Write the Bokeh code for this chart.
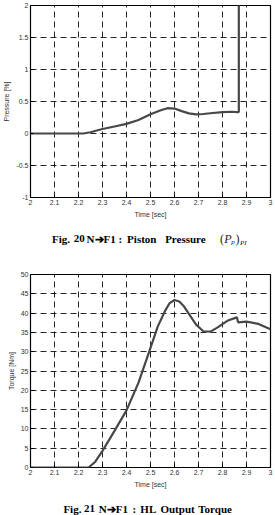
from bokeh.plotting import figure
from bokeh.layouts import column
from bokeh.models import FixedTicker, Range1d
from bokeh.core.properties import value
from bokeh.embed import file_html
from bokeh.resources import INLINE

# ---------------- data ----------------
x_ticks = [2.0, 2.1, 2.2, 2.3, 2.4, 2.5, 2.6, 2.7, 2.8, 2.9, 3.0]
x_tick_labels = ["2", "2.1", "2.2", "2.3", "2.4", "2.5", "2.6", "2.7", "2.8", "2.9", "3"]

p_ticks = [-1.0, -0.5, 0.0, 0.5, 1.0, 1.5, 2.0]
p_tick_labels = ["-1", "-0.5", "0", "0.5", "1", "1.5", "2"]

tq_ticks = [0, 5, 10, 15, 20, 25, 30, 35, 40, 45, 50]
tq_tick_labels = ["0", "5", "10", "15", "20", "25", "30", "35", "40", "45", "50"]

# Fig. 20: piston pressure [%]
press_t = [2.0, 2.22, 2.25, 2.28, 2.30, 2.35, 2.40, 2.45, 2.50, 2.54, 2.57, 2.60,
           2.63, 2.66, 2.69, 2.72, 2.76, 2.80, 2.84, 2.86, 2.868, 2.868]
press_v = [0.0, 0.0, 0.02, 0.05, 0.07, 0.11, 0.15, 0.21, 0.30, 0.36, 0.395, 0.39,
           0.35, 0.315, 0.30, 0.305, 0.32, 0.335, 0.34, 0.335, 0.335, 2.3]

# Fig. 21: HL output torque [Nm]
torq_t = [2.0, 2.242, 2.27, 2.30, 2.35, 2.40, 2.45, 2.50, 2.53, 2.56, 2.58, 2.60,
          2.62, 2.64, 2.66, 2.69, 2.72, 2.75, 2.78, 2.82, 2.86, 2.865, 2.90, 2.95, 3.0]
torq_v = [0.0, 0.0, 1.5, 4.3, 9.5, 14.8, 22.0, 31.0, 36.5, 40.5, 42.6, 43.4,
          43.0, 41.7, 39.8, 37.0, 35.3, 35.2, 36.3, 38.0, 38.9, 37.6, 37.8, 37.2, 35.8]

# captions
cap1_words = ["Fig.", "20", "N\u2794F1", ":", "Piston", "Pressure"]
cap2_words = ["Fig.", "21", "N\u2794F1", ":", "HL", "Output", "Torque"]

LINE_COLOR = "#474747"
TICK_FONT = "Liberation Sans"
CAP_FONT = "Liberation Serif"


def make_fig(height, y_range, y_ticks, y_labels, y_label, mb_top, mb_bottom, mb_left, mb_right):
    p = figure(width=275, height=height, output_backend="svg", toolbar_location=None,
               x_range=Range1d(2.0, 3.0), y_range=Range1d(*y_range),
               min_border_top=mb_top, min_border_bottom=mb_bottom,
               min_border_left=mb_left, min_border_right=mb_right)
    p.background_fill_color = "white"
    p.border_fill_color = "white"
    p.outline_line_color = "black"
    p.outline_line_width = 1.2
    p.xaxis.ticker = FixedTicker(ticks=x_ticks)
    p.xaxis.major_label_overrides = dict(zip(x_ticks, x_tick_labels))
    p.yaxis.ticker = FixedTicker(ticks=y_ticks)
    p.yaxis.major_label_overrides = dict(zip(y_ticks, y_labels))
    for ax in (p.xaxis, p.yaxis):
        ax.axis_line_color = None
        ax.major_tick_in = 3
        ax.major_tick_out = 0
        ax.minor_tick_line_color = None
        ax.major_tick_line_color = "black"
        ax.major_label_text_font = TICK_FONT
        ax.major_label_text_font_size = "7px"
        ax.major_label_text_color = "#333333"
        ax.axis_label_text_font = TICK_FONT
        ax.axis_label_text_font_size = "7px"
        ax.axis_label_text_font_style = "normal"
        ax.axis_label_text_color = "#333333"
        ax.major_label_standoff = 2
        ax.axis_label_standoff = 3
    p.xaxis.axis_label = "Time [sec]"
    p.yaxis.axis_label = y_label
    p.xgrid.ticker = FixedTicker(ticks=x_ticks)
    p.ygrid.ticker = FixedTicker(ticks=y_ticks)
    for g in (p.xgrid, p.ygrid):
        g.grid_line_color = "black"
        g.grid_line_dash = "6 4"
        g.grid_line_width = 1
        g.grid_line_alpha = 0.85
    return p


def make_caption(words, xs, y, extra=None):
    c = figure(width=275, height=25, output_backend="svg", toolbar_location=None,
               x_range=Range1d(0, 275), y_range=Range1d(0, 25),
               x_axis_location=None, y_axis_location=None,
               min_border_top=0, min_border_bottom=0, min_border_left=0, min_border_right=0)
    c.outline_line_color = None
    c.xgrid.visible = False
    c.ygrid.visible = False
    c.text(x=xs, y=[y] * len(xs), text=words, text_font=value(CAP_FONT),
           text_font_size="11px", text_font_style="bold", text_color="black",
           text_baseline="middle", text_align="center")
    if extra:
        for txt, x, dy, size, style in extra:
            c.text(x=[x], y=[y + dy], text=[txt], text_font=value(CAP_FONT),
                   text_font_size=size, text_font_style=style, text_color="#222222",
                   text_baseline="middle", text_align="left")
    return c


# ---------------- figure 1 ----------------
p1 = make_fig(225, (-1.0, 2.0), p_ticks, p_tick_labels, "Pressure [%]", 5, 28, 29, 2)
p1.line(press_t, press_v, line_color=LINE_COLOR, line_width=2.2)
c1 = make_caption(cap1_words, [35, 56, 81, 103, 127.5, 177.5], 12,
                  extra=[("(", 217, 0, "12px", "normal"), ("P", 222, 0, "12px", "italic"),
                         ("p", 230, -3, "7px", "italic"), (")", 235, 0, "12px", "normal"),
                         ("PI", 240, -4, "7px", "italic")])

# ---------------- figure 2 ----------------
p2 = make_fig(240, (0, 50), tq_ticks, tq_tick_labels, "Torque [Nm]", 24, 23, 26, 5)
p2.line(torq_t, torq_v, line_color=LINE_COLOR, line_width=2.2)
c2 = make_caption(cap2_words, [48, 67.5, 95, 119, 135, 168.5, 211.5], 7)

layout = column(p1, c1, p2, c2, spacing=0)
open("out.html", "w").write(file_html(layout, INLINE))
